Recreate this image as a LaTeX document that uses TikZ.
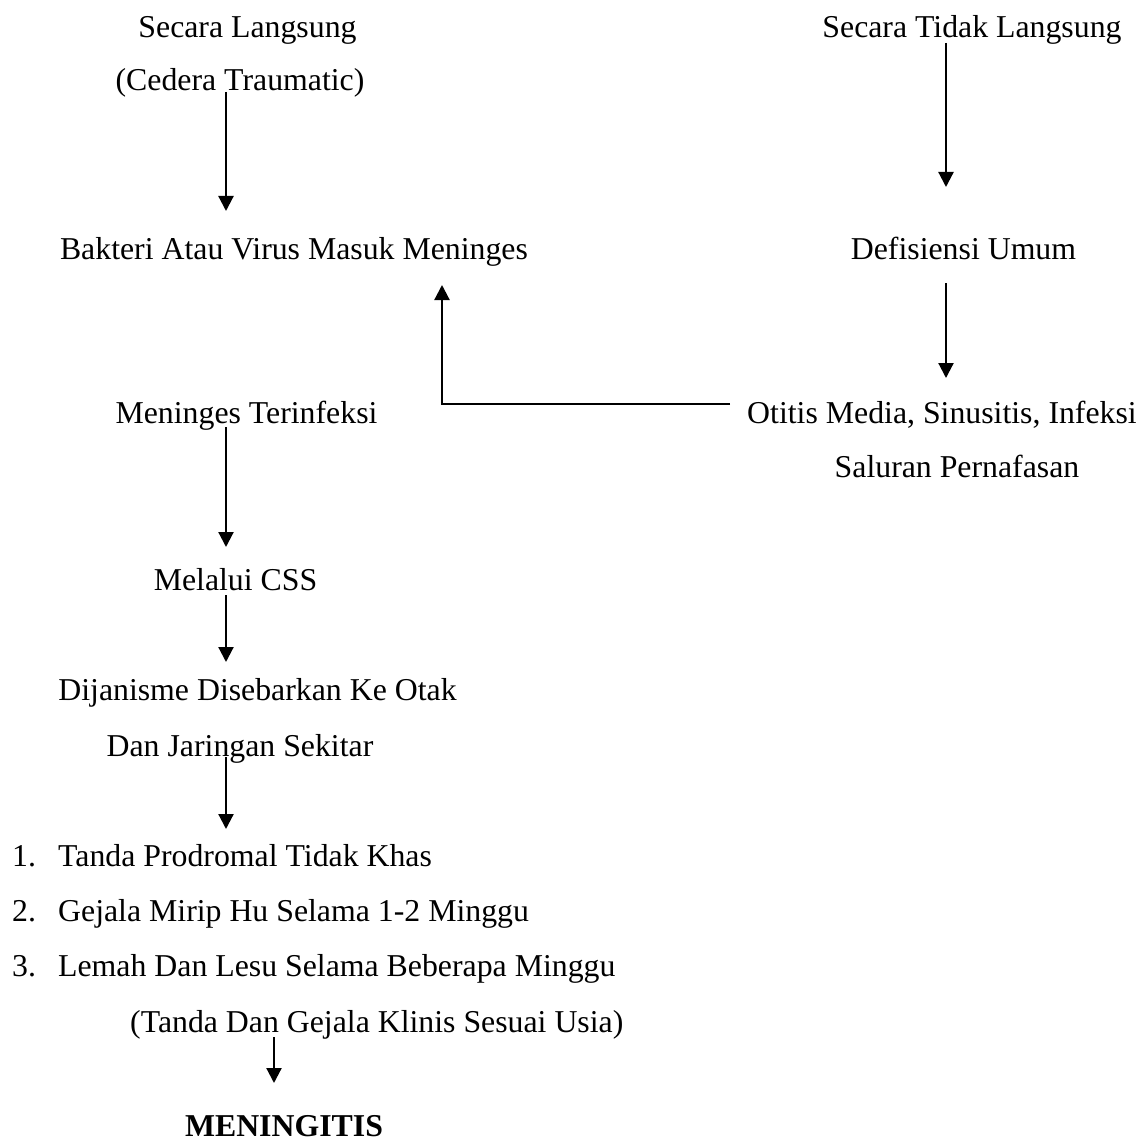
\documentclass[tikz,border=0pt]{standalone}
\usepackage{fontspec}
\setmainfont{Liberation Serif}
\usetikzlibrary{arrows.meta}
\begin{document}
\begin{tikzpicture}[x=1pt,y=-1pt,
  lbl/.style={inner sep=0pt,anchor=base,font=\fontsize{31.8}{38}\selectfont},
  lbll/.style={inner sep=0pt,anchor=base west,font=\fontsize{31.8}{38}\selectfont},
  arr/.style={line width=2.2pt,-{Triangle[width=15pt,length=15pt]}}]
\useasboundingbox (0,0) rectangle (1146,1142);
% left column
\node[lbl] (sl) at (247.5,38) {Secara Langsung};
\node[lbl] (ct) at (240,91) {(Cedera Traumatic)};
\node[lbl] (bv) at (294,259) {Bakteri Atau Virus Masuk Meninges};
\node[lbl] (mt) at (246.5,423) {Meninges Terinfeksi};
\node[lbl] (mc) at (235.5,590) {Melalui CSS};
\node[lbl] (dj) at (257.5,700) {Dijanisme Disebarkan Ke Otak};
\node[lbl] (dk) at (240,756) {Dan Jaringan Sekitar};
\node[lbll] (n1) at (12,866) {1.};
\node[lbll] (l1) at (58,866) {Tanda Prodromal Tidak Khas};
\node[lbll] (n2) at (12,921) {2.};
\node[lbll] (l2) at (58,921) {Gejala Mirip Hu Selama 1-2 Minggu};
\node[lbll] (n3) at (12,976) {3.};
\node[lbll] (l3) at (58,976) {Lemah Dan Lesu Selama Beberapa Minggu};
\node[lbll] (tg) at (130,1032) {(Tanda Dan Gejala Klinis Sesuai Usia)};
\node[lbl,font=\fontsize{31.8}{38}\selectfont\bfseries] (mn) at (284,1136) {MENINGITIS};
% right column
\node[lbl] (stl) at (972,38) {Secara Tidak Langsung};
\node[lbl] (du) at (963.5,259) {Defisiensi Umum};
\node[lbl] (om) at (942,423) {Otitis Media, Sinusitis, Infeksi};
\node[lbl] (sp) at (957,477) {Saluran Pernafasan};
% connector end points
\coordinate (a1s) at (226,92);   \coordinate (a1e) at (226,211);
\coordinate (a2s) at (946,43);   \coordinate (a2e) at (946,187);
\coordinate (a3s) at (946,283);  \coordinate (a3e) at (946,378);
\coordinate (ls) at (730,404);   \coordinate (lc) at (442,404);  \coordinate (le) at (442,285);
\coordinate (a4s) at (226,427);  \coordinate (a4e) at (226,547);
\coordinate (a5s) at (226,595);  \coordinate (a5e) at (226,662);
\coordinate (a6s) at (226,757);  \coordinate (a6e) at (226,829);
\coordinate (a7s) at (274,1037); \coordinate (a7e) at (274,1083);
% connectors
\draw[arr] (a1s) -- (a1e);
\draw[arr] (a2s) -- (a2e);
\draw[arr] (a3s) -- (a3e);
\draw[arr] (ls) -- (lc) -- (le);
\draw[arr] (a4s) -- (a4e);
\draw[arr] (a5s) -- (a5e);
\draw[arr] (a6s) -- (a6e);
\draw[arr] (a7s) -- (a7e);
\end{tikzpicture}
\end{document}
